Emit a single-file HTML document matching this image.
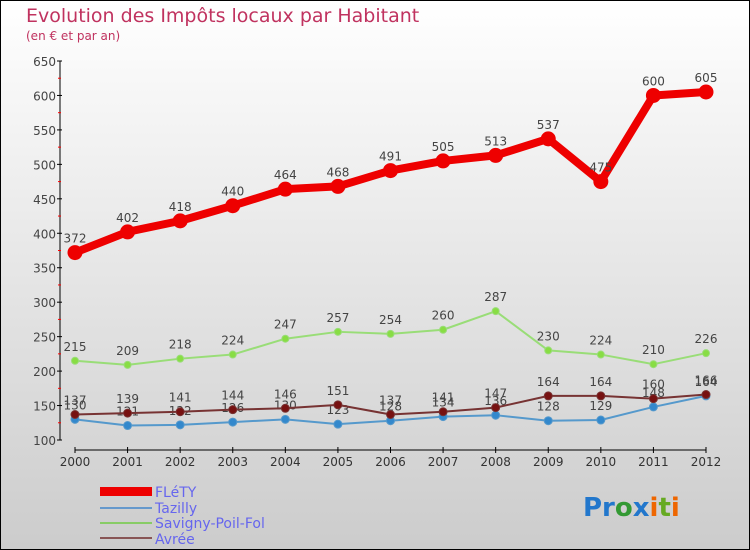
<!DOCTYPE html>
<html><head><meta charset="utf-8"><style>
body{margin:0;width:750px;height:550px;overflow:hidden}
svg{display:block;font-family:"DejaVu Sans","Liberation Sans",sans-serif}
</style></head><body>
<svg id="c" width="750" height="550">
<defs><linearGradient id="bg" x1="0" y1="0" x2="0" y2="1"><stop offset="0" stop-color="#ffffff"/><stop offset="1" stop-color="#cccccc"/></linearGradient></defs>
<rect x="0.5" y="0.5" width="749" height="549" fill="url(#bg)" stroke="#000"/>
<text x="26" y="22" font-size="19" fill="#c0325f">Evolution des Impôts locaux par Habitant</text>
<text x="26" y="40" font-size="12" fill="#c0325f">(en € et par an)</text>
<g id="axes"></g><g id="series"></g>
<g font-size="14" fill="#6666ee">
<rect x="100" y="487" width="52" height="9" fill="#ee0000"/>
<text x="155" y="497">FLéTY</text>
<rect x="100" y="507" width="52" height="2" fill="#6699cc"/>
<text x="155" y="513">Tazilly</text>
<rect x="100" y="522" width="52" height="2" fill="#88cc66"/>
<text x="155" y="528">Savigny-Poil-Fol</text>
<rect x="100" y="537" width="52" height="2" fill="#885555"/>
<text x="155" y="544">Avrée</text>
</g>
<text x="583" y="516" font-size="26" font-weight="bold"><tspan fill="#2277cc">Pr</tspan><tspan fill="#339933">o</tspan><tspan fill="#2277cc">x</tspan><tspan fill="#ee6600">i</tspan><tspan fill="#66aa22">t</tspan><tspan fill="#ee6600">i</tspan></text>
</svg>
<script>
const years=[2000,2001,2002,2003,2004,2005,2006,2007,2008,2009,2010,2011,2012];
const yTicks=[100,150,200,250,300,350,400,450,500,550,600,650];
const flety=[372,402,418,440,464,468,491,505,513,537,475,600,605];
const tazilly=[130,121,122,126,130,123,128,134,136,128,129,148,164];
const savigny=[215,209,218,224,247,257,254,260,287,230,224,210,226];
const avree=[137,139,141,144,146,151,137,141,147,164,164,160,166];
const NS="http://www.w3.org/2000/svg";
const xS=i=>75+i*(706-75)/(years.length-1);
const yS=v=>440-(v-100)*(440-61)/550;
function mk(t,a,p){const e=document.createElementNS(NS,t);for(const k in a)e.setAttribute(k,a[k]);p.appendChild(e);return e;}
const ax=document.getElementById('axes');
let yl=mk('line',{x1:60,y1:61,x2:60,y2:440,stroke:'#000'},ax);


let xl=mk('line',{x1:75,y1:450,x2:706,y2:450,stroke:'#000'},ax);


yTicks.forEach((v,i)=>{const y=yS(v);
mk('line',{x1:57,y1:y,x2:62,y2:y,stroke:'#000'},ax);
if(i<yTicks.length-1)mk('line',{x1:58,y1:yS(v+25),x2:61,y2:yS(v+25),stroke:'#f00'},ax);
const t=mk('text',{x:56,y:y+5,'text-anchor':'end','font-size':12,fill:'#444'},ax);t.textContent=v;

});
years.forEach((yr,i)=>{const x=xS(i);
mk('line',{x1:x,y1:447,x2:x,y2:453,stroke:'#000'},ax);
const t=mk('text',{x:x,y:466,'text-anchor':'middle','font-size':12,fill:'#333'},ax);t.textContent=yr;

});
const sg=document.getElementById('series');
function series(d,name,col,w,r,fill){
const g=mk('g',{},sg);


const l=mk('polyline',{points:d.map((v,i)=>xS(i)+','+yS(v)).join(' '),fill:'none',stroke:col,'stroke-width':w,'stroke-linejoin':'round'},g);


d.forEach((v,i)=>{const c=mk('circle',{cx:xS(i),cy:yS(v),r:r,fill:fill,stroke:col,'stroke-width':1},g);


const t=mk('text',{x:xS(i),y:yS(v)-10,'text-anchor':'middle','font-size':12,fill:'#444'},g);t.textContent=v;

});}
series(tazilly,'tazilly','#5599cc',2,4,'#3388cc');
series(avree,'avree','#773333',2,4,'#771111');
series(savigny,'savigny','#99dd77',2,3.5,'#88dd44');
series(flety,'flety','#ee0000',8,7,'#ee0000');
</script>
</body></html>
